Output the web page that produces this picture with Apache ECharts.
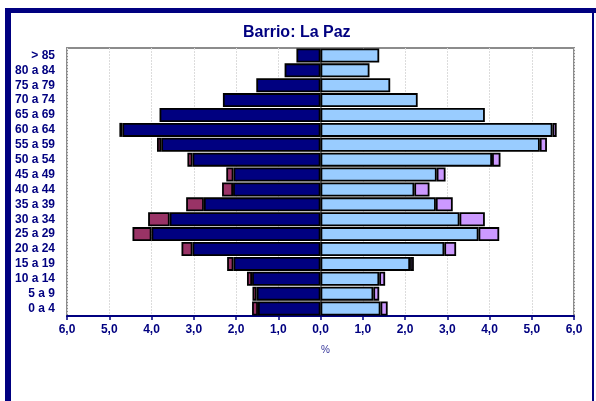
<!DOCTYPE html>
<html>
<head>
<meta charset="utf-8">
<script src="https://cdn.jsdelivr.net/npm/echarts@6/dist/echarts.min.js"></script>
<style>
  html, body { margin: 0; padding: 0; background: #fff; }
  #chart { width: 596px; height: 401px; }
</style>
</head>
<body>
<div id="chart"></div>
<script>
// grupos de edad (de abajo hacia arriba)
var categories = ['0 a 4', '5 a 9', '10 a 14', '15 a 19', '20 a 24', '25 a 29', '30 a 34', '35 a 39',
    '40 a 44', '45 a 49', '50 a 54', '55 a 59', '60 a 64', '65 a 69', '70 a 74', '75 a 79', '80 a 84', '> 85'];
// hombres (%)
var menMain = [1.48, 1.51, 1.62, 2.06, 3.03, 4.00, 3.57, 2.76, 2.07, 2.06, 3.03, 3.77, 4.69, 3.81, 2.31, 1.52, 0.85, 0.57];
var menExtra = [0.14, 0.10, 0.12, 0.15, 0.26, 0.45, 0.51, 0.42, 0.26, 0.17, 0.12, 0.10, 0.07, 0, 0, 0, 0, 0];
// mujeres (%)
var womenMain = [1.42, 1.25, 1.39, 2.12, 2.93, 3.74, 3.29, 2.73, 2.22, 2.75, 4.06, 5.19, 5.49, 3.89, 2.30, 1.65, 1.16, 1.39];
var womenExtra = [0.17, 0.14, 0.14, 0.09, 0.28, 0.49, 0.60, 0.40, 0.36, 0.21, 0.20, 0.17, 0.10, 0, 0, 0, 0, 0];
var xTicks = [-6, -5, -4, -3, -2, -1, 0, 1, 2, 3, 4, 5, 6];

var navy = '#000080';
var myChart = echarts.init(document.getElementById('chart'));

function mkSeries(name, data, color, neg) {
    return {
        name: name,
        type: 'bar',
        stack: 'total',
        barCategoryGap: '6%',
        itemStyle: { color: color, borderColor: '#000', borderWidth: 1.8 },
        data: data.map(function (v) { return v ? (neg ? -v : v) : '-'; })
    };
}

var option = {
    animation: false,
    title: {
        text: 'Barrio: La Paz',
        left: 238,
        top: 20,
        textStyle: { color: navy, fontSize: 16, fontWeight: 'bold', fontFamily: 'Liberation Sans, Arial' }
    },
    grid: {
        left: 67, right: 22, top: 48, bottom: 85,
        show: true, borderColor: '#8c8c8c', borderWidth: 2, backgroundColor: '#fff'
    },
    xAxis: {
        type: 'value',
        min: xTicks[0],
        max: xTicks[xTicks.length - 1],
        interval: 1,
        name: '%',
        nameLocation: 'middle',
        nameGap: 29,
        nameTextStyle: { color: '#333399', fontSize: 10, fontFamily: 'Liberation Sans, Arial', padding: [0, 0, 0, 10] },
        axisLine: { show: true, lineStyle: { color: navy, width: 2 } },
        axisTick: { show: true, length: 4, lineStyle: { color: navy, width: 1.5 } },
        axisLabel: {
            margin: 8,
            color: navy, fontSize: 12, fontWeight: 'bold', fontFamily: 'Liberation Sans, Arial',
            formatter: function (v) { return Math.abs(v).toFixed(1).replace('.', ','); }
        },
        splitLine: { show: true, lineStyle: { color: '#dcdcdc', width: 1, type: [2, 1] } }
    },
    yAxis: {
        type: 'category',
        data: categories,
        axisLine: { show: true, lineStyle: { color: '#8c8c8c', width: 2 } },
        axisTick: { show: false },
        axisLabel: {
            interval: 0, margin: 12,
            color: navy, fontSize: 12, fontWeight: 'bold', fontFamily: 'Liberation Sans, Arial'
        }
    },
    series: [
        mkSeries('Hombres', menMain, '#000080', true),
        mkSeries('Hombres extr.', menExtra, '#993366', true),
        mkSeries('Mujeres', womenMain, '#99ccff', false),
        mkSeries('Mujeres extr.', womenExtra, '#cc99ff', false)
    ],
    graphic: [
        // marco exterior
        { type: 'rect', z: 100, shape: { x: 5, y: 8, width: 591, height: 5 }, style: { fill: navy } },
        { type: 'rect', z: 100, shape: { x: 5, y: 8, width: 6, height: 393 }, style: { fill: navy } },
        { type: 'rect', z: 100, shape: { x: 592, y: 8, width: 2, height: 393 }, style: { fill: navy } }
    ]
};
myChart.setOption(option);
window.addEventListener('resize', function () { myChart.resize(); });
</script>
</body>
</html>
